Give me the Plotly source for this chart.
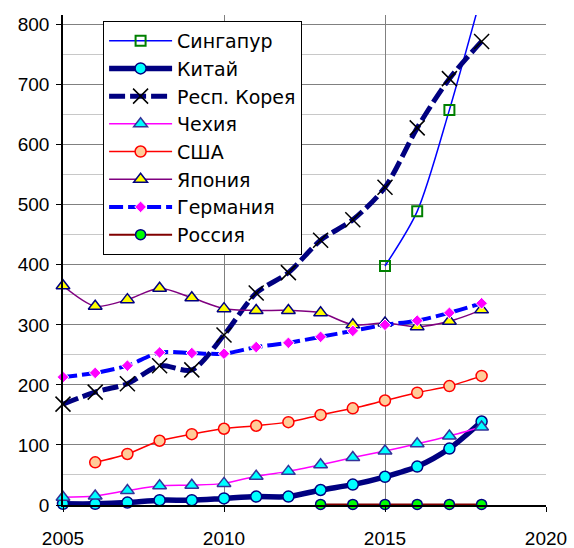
import plotly.graph_objects as go

years = list(range(2005, 2019))

singapore_years = [2015, 2016, 2017, 2018]
singapore = [398, 489, 658, 850]

china = [2, 2, 4, 8, 8, 11, 14, 14, 25, 34, 47, 64, 94, 139]
korea = [168, 188, 202, 232, 225, 283, 353, 387, 441, 475, 529, 628, 710, 772]
czech = [13, 15, 24, 32, 33, 36, 48, 56, 67, 79, 90, 102, 115, 130]
usa_years = list(range(2006, 2019))
usa = [71, 85, 107, 118, 127, 132, 138, 150, 161, 174, 187, 198, 215]
japan = [365, 331, 342, 361, 345, 327, 324, 324, 320, 300, 303, 297, 306, 325]
germany = [213, 220, 232, 254, 253, 252, 263, 270, 280, 290, 300, 307, 320, 336]
russia_years = list(range(2013, 2019))
russia = [1, 1, 1, 1, 1, 1]

x_ticks = [2005, 2010, 2015, 2020]
y_ticks = [0, 100, 200, 300, 400, 500, 600, 700, 800]

FONT = "Liberation Sans, Arial, sans-serif"
LEGEND_FONT = "DejaVu Sans, Liberation Sans, sans-serif"

fig = go.Figure()

def add(name, x, y, line, marker, clip=False):
    fig.add_trace(go.Scatter(
        x=x, y=y, name=name, mode="lines+markers",
        line=dict(shape="spline", smoothing=0.8, **line),
        marker=marker, cliponaxis=clip,
    ))

add("Сингапур", singapore_years, singapore,
    dict(color="#0000FF", width=1.5),
    dict(symbol="square-open", size=10, color="#008000", line=dict(width=2, color="#008000")),
    clip=True)
add("Китай", years, china,
    dict(color="#000080", width=5.5),
    dict(symbol="circle", size=11, color="#00FFFF", line=dict(width=1.5, color="#000080")))
add("Респ. Корея", years, korea,
    dict(color="#000080", width=5, dash="16px,5px"),
    dict(symbol="x-thin", size=15, color="#000000", line=dict(width=1.5, color="#000000")))
add("Чехия", years, czech,
    dict(color="#FF00FF", width=1.5),
    dict(symbol="triangle-up", size=12, color="#00FFFF", line=dict(width=1.5, color="#333399")))
add("США", usa_years, usa,
    dict(color="#FF0000", width=1.5),
    dict(symbol="circle", size=11, color="#FFCC99", line=dict(width=1.5, color="#FF0000")))
add("Япония", years, japan,
    dict(color="#800080", width=1.5),
    dict(symbol="triangle-up", size=12, color="#FFFF00", line=dict(width=1.5, color="#000080")))
add("Германия", years, germany,
    dict(color="#0000FF", width=4, dash="14px,5px"),
    dict(symbol="diamond", size=9, color="#FF00FF", line=dict(width=1, color="#FFFFFF")))
add("Россия", russia_years, russia,
    dict(color="#800000", width=2),
    dict(symbol="circle", size=10, color="#00FF00", line=dict(width=1.5, color="#000080")))

fig.update_layout(
    width=574, height=548,
    margin=dict(l=63, r=28, t=15, b=43, autoexpand=False),
    paper_bgcolor="white", plot_bgcolor="white",
    font=dict(family=FONT, size=19, color="black"),
    showlegend=True,
    legend=dict(
        x=0.083, y=0.988, xanchor="left", yanchor="top",
        bgcolor="white", bordercolor="black", borderwidth=1,
        font=dict(family=LEGEND_FONT, size=19, color="black"),
        itemwidth=63, tracegroupgap=0,
    ),
    xaxis=dict(
        range=[2005, 2020], tickvals=x_ticks, ticktext=[str(v) for v in x_ticks],
        showgrid=True, gridcolor="#808080", gridwidth=1,
        showline=True, linecolor="black", linewidth=1.5,
        ticks="outside", ticklen=5, tickcolor="black",
        zeroline=False, tickfont=dict(size=19), automargin=False,
        ticklabelstandoff=10,
    ),
    yaxis=dict(
        range=[0, 816], tickvals=y_ticks,
        showgrid=True, gridcolor="#808080", gridwidth=1,
        minor=dict(dtick=50, showgrid=True, gridcolor="#C8C8C8", gridwidth=1),
        showline=True, linecolor="black", linewidth=1.5,
        ticks="outside", ticklen=5, tickcolor="black",
        zeroline=False, tickfont=dict(size=19), automargin=False,
        ticklabelstandoff=3,
    ),
)

fig.write_html(
    "out.html",
    config={"displayModeBar": False},
    post_script="document.body.style.margin='0';document.body.style.padding='0';",
)
